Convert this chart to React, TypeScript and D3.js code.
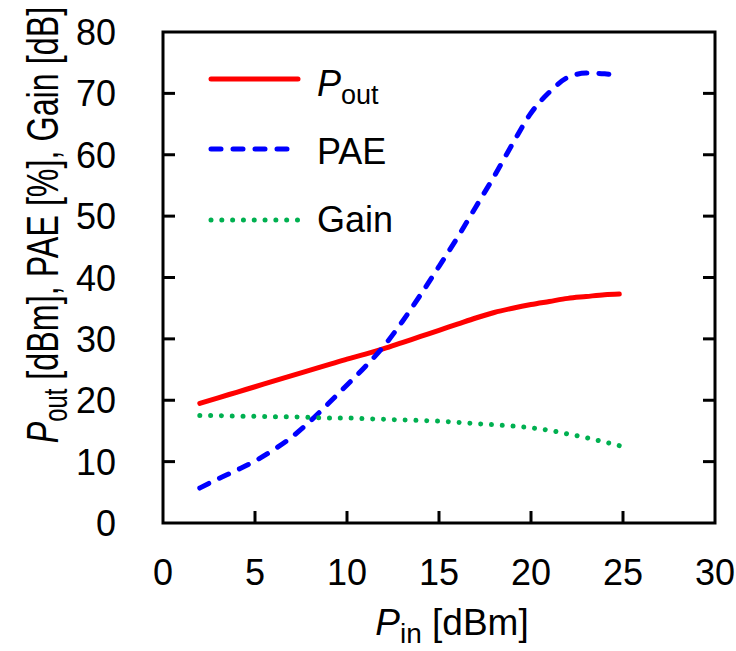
import React, { useEffect } from 'react';
import * as d3 from 'd3';

const pin = [2, 3, 4, 5, 6, 7, 8, 9, 10, 11, 12, 13, 14, 15, 16, 17, 18, 19, 20, 21, 22, 23, 24, 24.8];
const pout = [19.5, 20.4, 21.3, 22.2, 23.1, 24.0, 24.9, 25.8, 26.7, 27.5, 28.4, 29.4, 30.4, 31.4, 32.4, 33.4, 34.3, 35.0, 35.6, 36.1, 36.6, 36.9, 37.2, 37.3];
const pae = [5.7, 7.2, 8.6, 10.1, 11.9, 14.0, 16.6, 19.5, 22.5, 25.5, 28.8, 32.8, 37.2, 41.8, 46.5, 51.5, 56.5, 61.8, 66.8, 70.2, 72.6, 73.3, 73.2, 72.7];
const gain = [17.5, 17.5, 17.4, 17.4, 17.3, 17.3, 17.2, 17.1, 17.1, 17.0, 16.9, 16.8, 16.7, 16.6, 16.4, 16.2, 16.0, 15.8, 15.5, 15.1, 14.5, 13.9, 13.2, 12.6];

const xTicks = [0, 5, 10, 15, 20, 25, 30];
const yTicks = [0, 10, 20, 30, 40, 50, 60, 70, 80];

const series = [
  { name: 'Pout', values: pout, color: '#ff0000', dash: 'none' },
  { name: 'PAE', values: pae, color: '#0000ff', dash: '10 12' },
  { name: 'Gain', values: gain, color: '#00b050', dash: '0.01 10.8' },
];

const font = '"Liberation Sans", Arial, sans-serif';

export default function App() {
  useEffect(() => {
    document.body.style.margin = '0';
  }, []);

  const left = 163, right = 715, top = 32, bottom = 523;
  const x = d3.scaleLinear().domain([0, 30]).range([left, right]);
  const y = d3.scaleLinear().domain([0, 80]).range([bottom, top]);

  const line = (vals: number[]) =>
    d3.line<number>()
      .x((_, i) => x(pin[i]))
      .y(d => y(d))
      .curve(d3.curveMonotoneX)(vals) || '';

  const legendY = [79, 149, 220];

  return (
    <svg width={736} height={651} style={{ display: 'block', background: '#fff' }} fontFamily={font}>
      {series.map(s => (
        <path key={s.name} d={line(s.values)} fill="none" stroke={s.color} strokeWidth={5}
          strokeDasharray={s.dash} strokeLinecap="round" strokeLinejoin="round" />
      ))}

      {/* frame */}
      <rect x={left} y={top} width={right - left} height={bottom - top} fill="none" stroke="#000" strokeWidth={3} />
      {xTicks.slice(1, -1).map(t => (
        <line key={'xt' + t} x1={x(t)} x2={x(t)} y1={bottom} y2={bottom - 12} stroke="#000" strokeWidth={3} />
      ))}
      {yTicks.slice(1, -1).map(t => (
        <g key={'yt' + t}>
          <line x1={left} x2={left + 12} y1={y(t)} y2={y(t)} stroke="#000" strokeWidth={3} />
          <line x1={right} x2={right - 12} y1={y(t)} y2={y(t)} stroke="#000" strokeWidth={3} />
        </g>
      ))}

      {xTicks.map(t => (
        <text key={'xl' + t} x={x(t)} y={585} textAnchor="middle" fontSize={36}>{t}</text>
      ))}
      {yTicks.map(t => (
        <text key={'yl' + t} x={116} y={y(t) + 13} textAnchor="end" fontSize={36}>{t}</text>
      ))}

      {/* axis titles */}
      <text x={452} y={635} textAnchor="middle" fontSize={37}>
        <tspan fontStyle="italic">P</tspan>
        <tspan fontSize={28} dy={8}>in</tspan>
        <tspan dy={-8}> [dBm]</tspan>
      </text>
      <text transform="translate(58,225) rotate(-90) scale(1.01,1.4)" textAnchor="middle" fontSize={32}>
        <tspan fontStyle="italic">P</tspan>
        <tspan fontSize={23.5} dy={6.4}>out</tspan>
        <tspan dy={-6.4}> [dBm], PAE [%], Gain [dB]</tspan>
      </text>

      {/* legend */}
      {series.map((s, i) => (
        <line key={'lg' + s.name} x1={211} x2={298} y1={legendY[i]} y2={legendY[i]} stroke={s.color}
          strokeWidth={5} strokeDasharray={s.dash} strokeLinecap="round" />
      ))}
      <text x={317} y={legendY[0] + 17} fontSize={36}>
        <tspan fontStyle="italic">P</tspan>
        <tspan fontSize={27} dy={8}>out</tspan>
      </text>
      <text x={317} y={legendY[1] + 15} fontSize={36}>PAE</text>
      <text x={317} y={legendY[2] + 12} fontSize={36}>Gain</text>
    </svg>
  );
}
